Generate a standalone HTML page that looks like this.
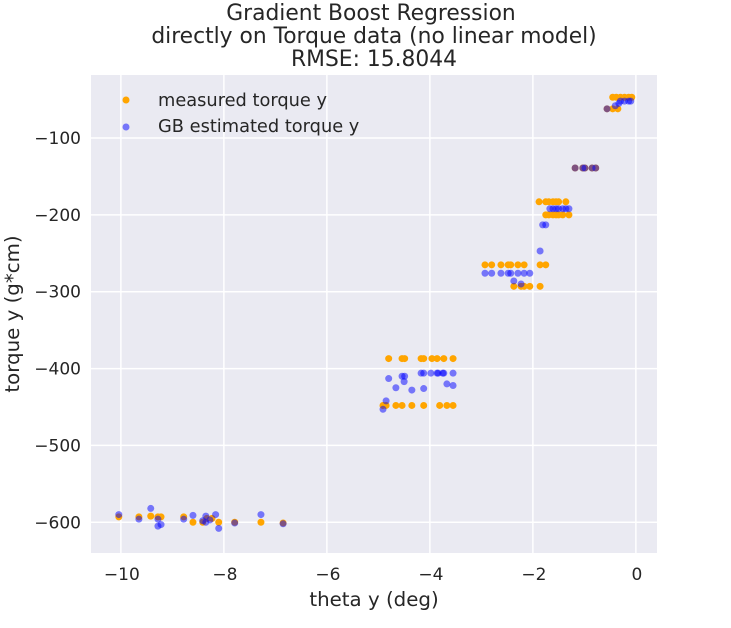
<!DOCTYPE html>
<html><head><meta charset="utf-8"><style>
body{margin:0;background:#fff;font-family:"Liberation Sans","DejaVu Sans",sans-serif;}
svg text{font-family:"DejaVu Sans","Liberation Sans",sans-serif;fill:#262626;}
</style></head><body>
<svg id="chart" width="731" height="623" xmlns="http://www.w3.org/2000/svg">
<g>
<text x="371" y="20" font-size="21.8" text-anchor="middle">Gradient Boost Regression</text>
<text x="374" y="43" font-size="21.8" text-anchor="middle">directly on Torque data (no linear model)</text>
<text x="374" y="66" font-size="21.8" text-anchor="middle">RMSE: 15.8044</text>
</g>
<rect x="91" y="75" width="566" height="478" fill="#eaeaf2"/>
<g id="grid"></g>
<g id="ticks"></g>
<g id="marks"></g>
<text x="374" y="606" font-size="19.8" text-anchor="middle">theta y (deg)</text>
<text transform="translate(19,314) rotate(-90)" font-size="19.8" text-anchor="middle">torque y (g*cm)</text>
<g>
<circle cx="126" cy="100" r="3.5" fill="#ffa500"/>
<text x="158" y="106" font-size="17.8">measured torque y</text>
<circle cx="126" cy="127" r="3.5" fill="#0000ff" fill-opacity="0.5"/>
<text x="158" y="132" font-size="17.8">GB estimated torque y</text>
</g>
</svg>
<script>
const xTicks=[-10,-8,-6,-4,-2,0];
const yTicks=[-600,-500,-400,-300,-200,-100];
const measuredX=[-10.04,-9.65,-9.42,-9.28,-9.22,-8.78,-8.60,-8.41,-8.33,-8.23,-8.10,-7.79,-7.28,-6.85,
-4.80,-4.54,-4.49,-4.17,-4.12,-3.96,-3.86,-3.73,-3.55,
-4.91,-4.85,-4.66,-4.54,-4.35,-4.12,-3.81,-3.67,-3.55,
-2.93,-2.80,-2.62,-2.48,-2.43,-2.29,-2.17,-1.86,-1.75,
-2.37,-2.23,-2.17,-2.06,-1.86,
-1.88,-1.75,-1.69,-1.61,-1.55,-1.50,-1.36,
-1.75,-1.69,-1.61,-1.55,-1.50,-1.42,-1.30,
-1.18,-1.03,-0.99,-0.85,-0.78,
-0.45,-0.38,-0.30,-0.22,-0.14,-0.08,
-0.56,-0.45,-0.35];
const measuredY=[-593,-593,-592,-593,-593,-593,-600,-600,-595,-595,-600,-600,-600,-601,
-387,-387,-387,-387,-387,-387,-387,-387,-387,
-448,-448,-448,-448,-448,-448,-448,-448,-448,
-265,-265,-265,-265,-265,-265,-265,-265,-265,
-293,-293,-293,-293,-293,
-183,-183,-183,-183,-183,-183,-183,
-200,-200,-200,-200,-200,-200,-200,
-139,-139,-139,-139,-139,
-47,-47,-47,-47,-47,-47,
-62,-62,-62];
const estimatedX=[-10.04,-9.65,-9.42,-9.28,-9.28,-9.22,-8.78,-8.60,-8.41,-8.35,-8.35,-8.27,-8.16,-8.10,-7.79,-7.28,-6.85,
-4.17,-4.12,-3.98,-3.86,-3.84,-3.75,-3.73,-3.55,-4.80,-4.54,-4.49,-4.50,-4.66,-4.35,-4.12,-3.67,-3.55,-4.85,-4.91,
-2.93,-2.80,-2.62,-2.48,-2.43,-2.29,-2.17,-2.06,-2.37,-2.23,
-1.67,-1.61,-1.55,-1.50,-1.42,-1.36,-1.30,-1.81,-1.75,-1.86,
-1.18,-1.03,-0.99,-0.85,-0.78,
-0.56,-0.40,-0.33,-0.30,-0.22,-0.14,-0.10];
const estimatedY=[-590,-596,-582,-596,-605,-603,-596,-591,-598,-600,-592,-597,-590,-608,-601,-590,-602,
-406,-406,-406,-406,-406,-406,-406,-406,-413,-410,-410,-417,-425,-428,-426,-420,-422,-442,-453,
-276,-276,-276,-276,-276,-276,-276,-276,-286,-290,
-192,-192,-192,-192,-192,-192,-192,-213,-213,-247,
-139,-139,-139,-139,-139,
-62,-58,-55,-52,-52,-52,-52];
const X0=91,X1=657,Y0=75,Y1=553,xMin=-10.58,xMax=0.41,yMin=-640,yMax=-18;
const xs=v=>X0+(v-xMin)/(xMax-xMin)*(X1-X0);
const ys=v=>Y1-(v-yMin)/(yMax-yMin)*(Y1-Y0);
const NS='http://www.w3.org/2000/svg';
const grid=document.getElementById('grid'),ticks=document.getElementById('ticks'),marks=document.getElementById('marks');
function mk(tag,attrs,parent){const e=document.createElementNS(NS,tag);for(const k in attrs)e.setAttribute(k,attrs[k]);parent.appendChild(e);return e;}
xTicks.forEach(t=>{
 const l=mk('line',{x1:xs(t),x2:xs(t),y1:Y0,y2:Y1,stroke:'#fff','stroke-width':1.5},grid);
 
 
 const tx=mk('text',{x:xs(t)+1,y:Y1+27,'font-size':17,'text-anchor':'middle'},ticks);
 tx.textContent=(t<0?'\u2212'+(-t):t);
 
 
});
yTicks.forEach(t=>{
 const l=mk('line',{x1:X0,x2:X1,y1:ys(t),y2:ys(t),stroke:'#fff','stroke-width':1.5},grid);
 
 
 const tx=mk('text',{x:X0-10,y:ys(t)+6,'font-size':17,'text-anchor':'end'},ticks);
 tx.textContent='\u2212'+(-t);
 
 
});
measuredX.forEach((x,i)=>{
 const c=mk('circle',{cx:xs(x),cy:ys(measuredY[i]),r:3.5,fill:'#ffa500'},marks);
 
 
});
estimatedX.forEach((x,i)=>{
 const c=mk('circle',{cx:xs(x),cy:ys(estimatedY[i]),r:3.5,fill:'#0000ff','fill-opacity':0.5},marks);
 
 
});
</script>
</body></html>
